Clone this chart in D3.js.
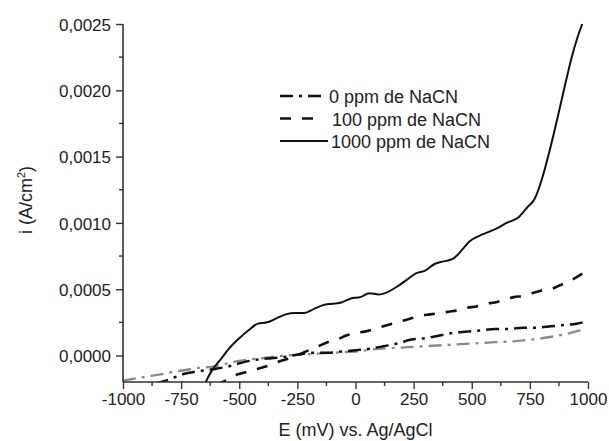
<!DOCTYPE html>
<html>
<head>
<meta charset="utf-8">
<script src="https://cdn.jsdelivr.net/npm/d3@7"></script>
<style>
  html, body { margin: 0; padding: 0; background: #fff; }
  svg { display: block; font-family: Arial, "Liberation Sans", sans-serif; }
</style>
</head>
<body>
<svg id="chart" width="609" height="441"></svg>
<script>
// ---- data (E in mV, i in A/cm2) ----
const seriesNames = ["0 ppm de NaCN", "100 ppm de NaCN", "1000 ppm de NaCN"];

const ppm0 = [
  [-860, -0.00021], [-800, -0.00018], [-740, -0.00014], [-680, -0.00012],
  [-600, -0.00010], [-540, -0.00008], [-480, -0.00005], [-420, -0.00003],
  [-360, -0.00002], [-300, -0.00001], [-240, 0.00001], [-180, 0.00002],
  [-120, 0.00002], [-60, 0.00003], [0, 0.00004], [60, 0.00005],
  [120, 0.00007], [180, 0.00009], [240, 0.00012], [300, 0.00013],
  [360, 0.00015], [420, 0.00017], [480, 0.00018], [540, 0.00019],
  [600, 0.00020], [660, 0.00020], [720, 0.00021], [780, 0.00021],
  [840, 0.00022], [900, 0.00023], [950, 0.00024], [1000, 0.00026]
];

const ppm100 = [
  [-600, -0.00022], [-560, -0.00019], [-520, -0.00015], [-480, -0.00013],
  [-440, -0.00011], [-400, -0.00009], [-360, -0.00007], [-320, -0.00004],
  [-280, -0.00002], [-240, 0.00001], [-200, 0.00004], [-160, 0.00007],
  [-120, 0.00010], [-80, 0.00012], [-40, 0.00015], [0, 0.00017],
  [40, 0.00018], [80, 0.00020], [120, 0.00022], [160, 0.00024],
  [200, 0.00026], [240, 0.00028], [280, 0.00030], [320, 0.00031],
  [360, 0.00032], [400, 0.00033], [440, 0.00034], [480, 0.00036],
  [520, 0.00037], [560, 0.00039], [600, 0.00040], [640, 0.00042],
  [680, 0.00044], [720, 0.00045], [760, 0.00047], [800, 0.00049],
  [840, 0.00050], [880, 0.00053], [920, 0.00056], [960, 0.00060],
  [985, 0.00063]
];

const ppm1000 = [
  [-650, -0.00022], [-620, -0.00012], [-580, -0.00003], [-540, 0.00006],
  [-500, 0.00013], [-460, 0.00019], [-420, 0.00024], [-380, 0.00025],
  [-340, 0.00028], [-300, 0.00031], [-260, 0.00032], [-220, 0.00032],
  [-180, 0.00035], [-140, 0.00038], [-100, 0.00039], [-60, 0.00040],
  [-20, 0.00043], [20, 0.00044], [60, 0.00047], [100, 0.00046],
  [140, 0.00048], [180, 0.00052], [220, 0.00057], [260, 0.00062],
  [300, 0.00064], [340, 0.00069], [380, 0.00071], [420, 0.00073],
  [460, 0.00080], [490, 0.00086], [530, 0.00090], [570, 0.00093],
  [610, 0.00096], [650, 0.00100], [700, 0.00104], [740, 0.00112],
  [770, 0.00118], [800, 0.00132], [840, 0.00158], [870, 0.00180],
  [900, 0.00203], [930, 0.00225], [955, 0.00240], [975, 0.00250]
];

// unlabelled grey dash-dot curve
const greyCurve = [
  [-1000, -0.00019], [-900, -0.00016], [-800, -0.00013], [-700, -0.00010],
  [-600, -0.00008], [-500, -0.00004], [-400, -0.00002], [-300, 0.00000],
  [-200, 0.00001], [-100, 0.00002], [0, 0.00003], [100, 0.00005],
  [200, 0.00006], [300, 0.00007], [400, 0.00008], [500, 0.00009],
  [600, 0.00010], [700, 0.00011], [800, 0.00013], [900, 0.00016],
  [985, 0.00020]
];

const xTicks = [-1000, -750, -500, -250, 0, 250, 500, 750, 1000];
const yTicks = [0.0000, 0.0005, 0.0010, 0.0015, 0.0020, 0.0025];
const xLabel = "E (mV) vs. Ag/AgCl";

// ---- layout ----
const svg = d3.select("#chart");
const L = 123, R = 588, T = 24, B = 382;
const x = d3.scaleLinear().domain([-1000, 1000]).range([L, R]);
const y = d3.scaleLinear().domain([-0.0002, 0.0025]).range([B, T]);
const axisColor = "#333";
const font = "Arial, 'Liberation Sans', sans-serif";

svg.append("defs").append("clipPath").attr("id", "clip")
  .append("rect").attr("x", L).attr("y", T - 2).attr("width", R - L + 2).attr("height", B - T + 2);

const line = d3.line().x(d => x(d[0])).y(d => y(d[1])).curve(d3.curveMonotoneX);
const g = svg.append("g").attr("clip-path", "url(#clip)");

const dashDot = "13,6,3,6";
const dashed = "11,11";
const styles = [
  { data: greyCurve, stroke: "#8a8a8a", width: 2.3, dash: dashDot },
  { data: ppm0, stroke: "#111", width: 2.5, dash: dashDot },
  { data: ppm100, stroke: "#111", width: 2.6, dash: dashed },
  { data: ppm1000, stroke: "#111", width: 2, dash: null }
];
styles.forEach(s => {
  g.append("path").datum(s.data).attr("d", line)
    .attr("fill", "none").attr("stroke", s.stroke)
    .attr("stroke-width", s.width)
    .attr("stroke-dasharray", s.dash);
});

// ---- axes ----
const xAxis = d3.axisBottom(x).tickValues(xTicks).tickSize(7).tickPadding(4)
  .tickFormat(d => String(d));
const gx = svg.append("g").attr("transform", `translate(0,${B})`).call(xAxis);
const yAxis = d3.axisLeft(y).tickValues(yTicks).tickSize(7).tickPadding(5)
  .tickFormat(d => d.toFixed(4).replace(".", ","));
const gy = svg.append("g").attr("transform", `translate(${L},0)`).call(yAxis);

[gx, gy].forEach(a => {
  a.select(".domain").attr("stroke", axisColor).attr("stroke-width", 1.6);
  a.selectAll(".tick line").attr("stroke", axisColor).attr("stroke-width", 1.4);
  a.selectAll(".tick text").attr("fill", "#222").style("font-size", "17px")
    .style("font-family", font);
});
gy.selectAll(".tick text").attr("dy", "0.36em");
gx.select(".domain").attr("d", `M${L},0H${R}`);
gy.select(".domain").attr("d", `M0,${B}V${T}`);

// minor ticks
const xMinor = d3.range(-875, 1000, 250);
svg.append("g").selectAll("line").data(xMinor).join("line")
  .attr("x1", d => x(d)).attr("x2", d => x(d)).attr("y1", B).attr("y2", B + 4)
  .attr("stroke", axisColor).attr("stroke-width", 1.4);
const yMinor = [0.00025, 0.00075, 0.00125, 0.00175, 0.00225];
svg.append("g").selectAll("line").data(yMinor).join("line")
  .attr("x1", L - 4).attr("x2", L).attr("y1", d => y(d)).attr("y2", d => y(d))
  .attr("stroke", axisColor).attr("stroke-width", 1.4);

// axis titles
svg.append("text").attr("x", x(0)).attr("y", 436).attr("text-anchor", "middle")
  .style("font-size", "18px").style("font-family", font).attr("fill", "#222").text(xLabel);

const yl = svg.append("text").attr("transform", "translate(32,200) rotate(-90)")
  .attr("text-anchor", "middle").style("font-size", "18px").style("font-family", font)
  .attr("fill", "#222");
yl.append("tspan").text("i (A/cm");
yl.append("tspan").attr("dy", -7).style("font-size", "11px").text("2");
yl.append("tspan").attr("dy", 7).text(")");

// ---- legend ----
const legendStyles = [
  { dash: dashDot, width: 2.5, x2: 322, tx: 329 },
  { dash: dashed, width: 2.6, x2: 320, tx: 332 },
  { dash: null, width: 2, x2: 328, tx: 331 }
];
const lg = svg.append("g");
seriesNames.forEach((name, k) => {
  const yy = 96 + k * 22.5;
  const st = legendStyles[k];
  lg.append("line").attr("x1", 280).attr("x2", st.x2)
    .attr("y1", yy).attr("y2", yy).attr("stroke", "#111")
    .attr("stroke-width", st.width)
    .attr("stroke-dasharray", st.dash);
  lg.append("text").attr("x", st.tx).attr("y", yy + 7)
    .style("font-size", "18px").style("font-family", font)
    .attr("fill", "#222").text(name);
});
</script>
</body>
</html>
